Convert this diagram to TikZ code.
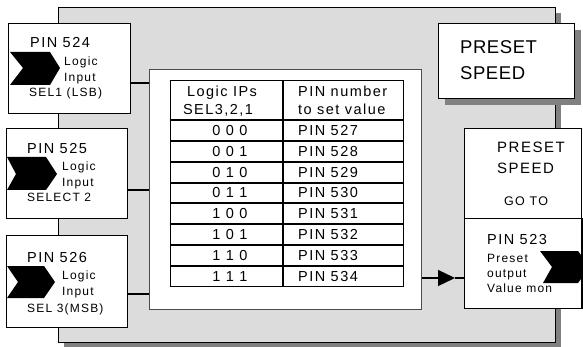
\documentclass[tikz,border=0pt]{standalone}
\usepackage{fontspec}
\setmainfont{Liberation Sans}[LetterSpace=10]
\newfontfamily\bigfont{Liberation Sans}[LetterSpace=3]
\usetikzlibrary{arrows.meta}
\definecolor{framegray}{RGB}{220,220,220}
\definecolor{shadowgray}{RGB}{128,128,128}
\begin{document}
\begin{tikzpicture}[x=1pt,y=-1pt,
  box/.style={draw, line width=1.3pt, fill=white, inner sep=0pt, anchor=north west},
  sm/.style={font=\fontsize{12}{14}\selectfont, inner sep=0pt, anchor=base west},
  md/.style={font=\fontsize{14.5}{16}\selectfont, inner sep=0pt, anchor=base west},
  mdc/.style={font=\fontsize{14.5}{16}\selectfont, inner sep=0pt, anchor=base},
  lg/.style={font=\bigfont\fontsize{18.5}{20}\selectfont, inner sep=0pt, anchor=base west},
  rb/.style={font=\fontsize{15}{17}\selectfont, inner sep=0pt, anchor=base west},
  chev/.style={fill=black},
  conn/.style={line width=1.3pt},
  tline/.style={line width=1.3pt}
]
\useasboundingbox (0,0) rectangle (583,347);
\fill[white] (0,0) rectangle (583,347);
% frame with shadow
\fill[shadowgray] (64,13) rectangle (561,347);
\node[draw, line width=1pt, fill=framegray, inner sep=0pt, anchor=north west,
      minimum width=497pt, minimum height=335pt] (frame) at (58,7) {};

% helper coordinates
\coordinate (y83) at (0,83);
\coordinate (y190) at (0,190);
\coordinate (y294) at (0,294);
\coordinate (y278) at (0,278);
\coordinate (amid) at (455,278);

% white inner box
\node[draw=black!70, line width=1pt, fill=white, inner sep=0pt, anchor=north west,
      minimum width=272pt, minimum height=240pt] (inner) at (149,69) {};

% input boxes
\node[box, minimum width=122pt, minimum height=90pt] (b524) at (8,23) {};
\node[box, minimum width=121pt, minimum height=90pt] (b525) at (6,128) {};
\node[box, minimum width=121pt, minimum height=92pt] (b526) at (6,235) {};

% connectors
\draw[conn] (b524.east |- y83) -- (inner.west |- y83);
\draw[conn] (b525.east |- y190) -- (inner.west |- y190);
\draw[conn] (b526.east |- y294) -- (inner.west |- y294);

% chevrons
\fill[chev] (10,52) -- (50,52) -- (60,68) -- (50,85) -- (10,85) -- (23,68) -- cycle;
\fill[chev] (7,157) -- (46,157) -- (57,174) -- (46,190) -- (7,190) -- (16,174) -- cycle;
\fill[chev] (7,266) -- (44,266) -- (55,282) -- (44,298) -- (7,298) -- (18,282) -- cycle;

% texts of input boxes
\node[md] (t524) at (30,48) {PIN 524};
\node[sm] (l524a) at (64,66) {Logic};
\node[sm] (l524b) at (64,82) {Input};
\node[sm] (s524) at (29,97) {SEL1 (LSB)};

\node[md] (t525) at (27,154) {PIN 525};
\node[sm] (l525a) at (62,171) {Logic};
\node[sm] (l525b) at (62,187) {Input};
\node[sm] (s525) at (27,202) {SELECT 2};

\node[md] (t526) at (27,262) {PIN 526};
\node[sm] (l526a) at (62,279) {Logic};
\node[sm] (l526b) at (62,295) {Input};
\node[sm] (s526) at (27,312) {SEL 3(MSB)};

% table
\node[draw, line width=1.3pt, inner sep=0pt, anchor=north west,
      minimum width=233pt, minimum height=206pt] (tbl) at (170,80) {};
\draw[tline] (283,80) -- (283,286);
\foreach \yy in {120,141,162,183,203,224,245,266}
  \draw[tline] (170,\yy) -- (403,\yy);
\node[mdc] (h1a) at (222,97) {Logic IPs};
\node[mdc] (h1b) at (218,115) {SEL3,2,1};
\node[md] (h2a) at (298,97) {PIN number};
\node[md] (h2b) at (298,115) {to set value};
\foreach \c/\p/\yc [count=\i] in {0 0 0/527/130.5, 0 0 1/528/151.5, 0 1 0/529/172.5,
    0 1 1/530/193, 1 0 0/531/213.5, 1 0 1/532/234.5, 1 1 0/533/255.5, 1 1 1/534/276} {
  \node[mdc] (c\i) at (230,\yc+5) {\c};
  \node[md] (p\i) at (298,\yc+5) {PIN \p};
}

% top-right title box with shadow
\fill[shadowgray] (445,30) rectangle (581,105);
\node[box, minimum width=136pt, minimum height=75pt] (title) at (438,23) {};
\node[lg] (tt1) at (460,54) {PRESET};
\node[lg] (tt2) at (460,80) {SPEED};

% right box
\node[box, minimum width=117pt, minimum height=90pt] (rtop) at (464,128) {};
\node[box, minimum width=117pt, minimum height=90pt] (rbot) at (464,218) {};
\node[rb] (r1) at (497,153) {PRESET};
\node[rb] (r2) at (497,174) {SPEED};
\node[font=\fontsize{12.5}{14}\selectfont, inner sep=0pt, anchor=base west] (r3) at (504,206) {GO TO};
\node[md] (r4) at (487,244) {PIN 523};
\node[sm] (r5) at (487,262) {Preset};
\node[sm] (r6) at (487,277) {output};
\node[sm] (r7) at (487,292) {Value mon};
\begin{scope}
  \clip (rbot.north west) rectangle (rbot.south east);
  \fill[chev] (540,251) -- (578,251) -- (590,267) -- (578,283) -- (543,283) -- (552,267) -- cycle;
\end{scope}
\draw[line width=1.3pt] (rbot.north east) -- (rbot.south east);

% output arrow
\draw[conn, -{Triangle[length=17pt,width=16pt]}] (inner.east |- y278) -- (amid);
\draw[conn] (amid) -- (rbot.west |- y278);
\end{tikzpicture}
\end{document}
